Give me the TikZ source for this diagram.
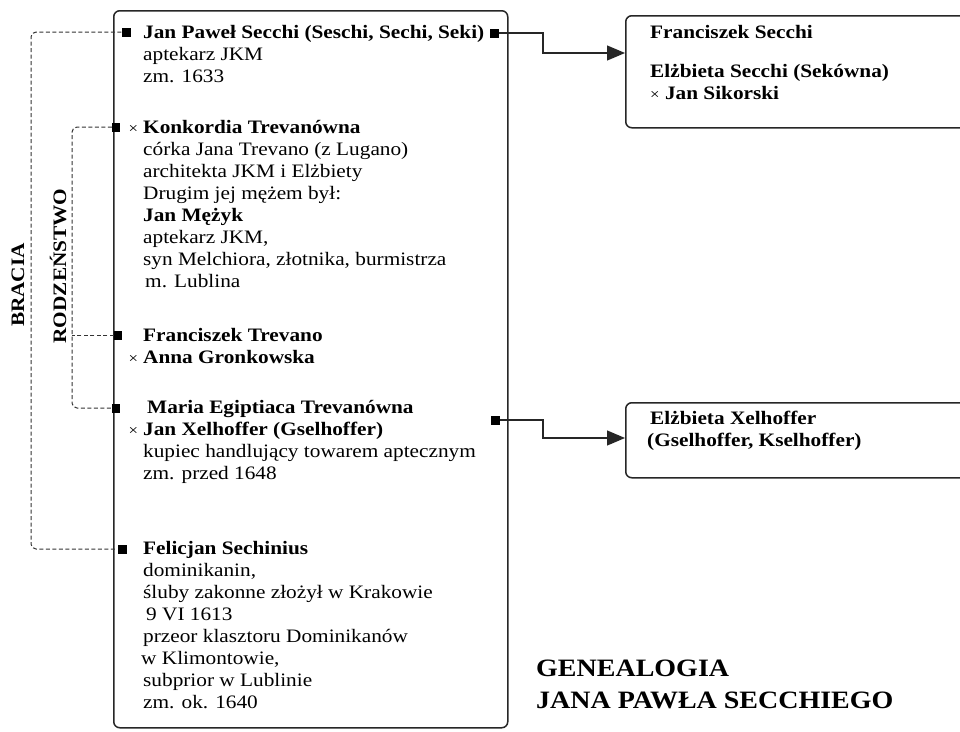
\documentclass[tikz,border=0pt]{standalone}
\usepackage{fontspec}
\setmainfont{Liberation Serif}[FakeStretch=1.12]
\usetikzlibrary{arrows.meta}
\newcommand\Lines[2][22pt]{\vtop{\baselineskip=#1\relax\lineskiplimit=-100pt\lineskip=0pt\halign{##\hfil\cr#2\crcr}}}
\newcommand\xx{\llap{{\fontsize{15pt}{15pt}\selectfont\mdseries ×}\kern5pt}}
\tikzset{
  txt/.style={anchor=base west, inner sep=0pt, font=\fontsize{19pt}{22pt}\selectfont},
  box/.style={draw=black!85, line width=1.5pt, rounded corners=6pt, anchor=north west, inner sep=0pt},
  sqmark/.style={fill=black, rectangle, inner sep=0pt, minimum width=9pt, minimum height=9pt},
  dline/.style={draw=black!80, line width=1pt, dash pattern=on 4pt off 2.5pt},
  arr/.style={draw=black!85, line width=1.2pt, -{Triangle[length=18pt,width=15pt]}},
  lbl/.style={rotate=90, inner sep=0pt, font=\fontsize{19pt}{22pt}\selectfont\bfseries},
}
\begin{document}
\begin{tikzpicture}[x=1pt,y=-1pt]
\useasboundingbox[fill=white] (0,0) rectangle (960,731);
% boxes
\node[box, minimum width=394pt, minimum height=717pt] (mainbox) at (113,10) {};
\node[box, minimum width=360pt, minimum height=112pt] (b1) at (625,15) {};
\node[box, minimum width=360pt, minimum height=75pt] (b2) at (625,402) {};
% markers
\node[sqmark] (m1) at (126,32) {};
\node[sqmark, minimum width=8pt] (m2) at (116,127) {};
\node[sqmark, minimum width=8pt] (m3) at (118,335) {};
\node[sqmark, minimum width=8pt] (m4) at (116,408) {};
\node[sqmark] (m5) at (122,549) {};
\node[sqmark] (r1) at (494,33) {};
\node[sqmark] (r2) at (495,420) {};
% texts main box
\node[txt] (t1) at (143,38) {\Lines{\textbf{Jan Paweł Secchi (Seschi, Sechi, Seki)}\cr aptekarz JKM\cr zm. 1633}};
\node[txt] (t2) at (143,133) {\Lines{\xx\textbf{Konkordia Trevanówna}\cr córka Jana Trevano (z Lugano)\cr architekta JKM i Elżbiety\cr Drugim jej mężem był:\cr \textbf{Jan Mężyk}\cr aptekarz JKM,\cr syn Melchiora, złotnika, burmistrza\cr \kern2pt m. Lublina}};
\node[txt] (t3) at (143,341) {\Lines{\textbf{Franciszek Trevano}\cr \xx\textbf{Anna Gronkowska}}};
\node[txt] (t4) at (143,413) {\Lines{\kern4pt\textbf{Maria Egiptiaca Trevanówna}\cr \xx\textbf{Jan Xelhoffer (Gselhoffer)}\cr kupiec handlujący towarem aptecznym\cr zm. przed 1648}};
\node[txt] (t5) at (143,554) {\Lines{\textbf{Felicjan Sechinius}\cr dominikanin,\cr śluby zakonne złożył w Krakowie\cr \kern3pt 9 VI 1613\cr przeor klasztoru Dominikanów\cr \kern-2pt w Klimontowie,\cr subprior w Lublinie\cr zm. ok. 1640}};
% right boxes texts
\node[txt, font=\fontsize{19pt}{22pt}\selectfont\bfseries] (s1) at (650,38) {Franciszek Secchi};
\node[txt, font=\fontsize{19pt}{22pt}\selectfont\bfseries] (s2) at (650,77) {\Lines{Elżbieta Secchi (Sekówna)\cr {\fontsize{15pt}{15pt}\selectfont\mdseries ×} Jan Sikorski}};
\node[txt, font=\fontsize{19pt}{22pt}\selectfont\bfseries] (s3) at (650,424) {\Lines{Elżbieta Xelhoffer\cr \kern-3pt(Gselhoffer, Kselhoffer)}};
% title
\node[txt, font=\fontsize{25pt}{28pt}\selectfont\bfseries] (title) at (536,676) {\Lines[32pt]{GENEALOGIA\cr JANA PAWŁA SECCHIEGO}};
% side labels
\node[lbl] (lb) at (18,285) {BRACIA};
\node[lbl] (lr) at (58,266) {RODZEŃSTWO};
% connectors
\coordinate (cB) at (31,300);
\coordinate (cR) at (72,270);
\draw[dline, rounded corners=5pt] (m1.west) -| (cB) |- (m5.west);
\draw[dline, rounded corners=5pt] (m2.west) -| (cR) |- (m4.west);
\draw[dline] (m3.west) -- (m3.west -| cR);
\coordinate (k1) at (543,53);
\coordinate (k2) at (543,438);
\draw[arr] (r1.east) -| (k1) -- (k1 -| b1.west);
\draw[arr] (r2.east) -| (k2) -- (k2 -| b2.west);
\end{tikzpicture}
\end{document}
